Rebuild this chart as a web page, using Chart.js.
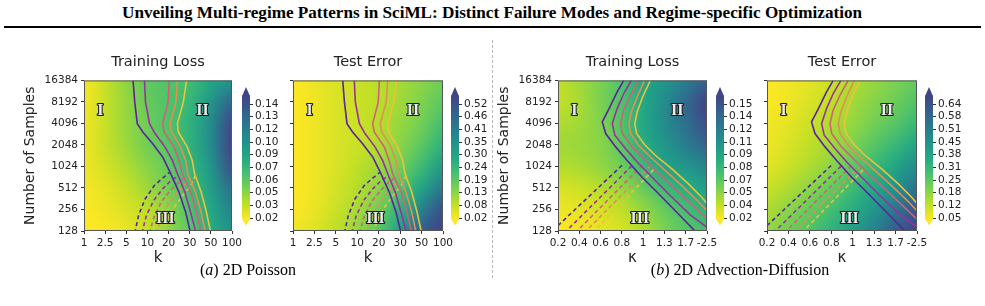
<!DOCTYPE html>
<html>
<head>
<meta charset="utf-8">
<script src="https://cdn.jsdelivr.net/npm/chart.js@4.4.1/dist/chart.umd.min.js"></script>
<style>
  body { margin: 0; width: 985px; height: 306px; background: #fff; position: relative; overflow: hidden; }
  canvas { position: absolute; }
  #header { position: absolute; top: 3px; left: 0; width: 985px; text-align: center; font: bold 17px "Liberation Serif", serif; color: #000; white-space: nowrap; }
  #header span { display: inline-block; transform-origin: center; }
  #rule { position: absolute; top: 26px; left: 4px; width: 977px; height: 2px; background: #000; }
  #divider { position: absolute; left: 492px; top: 40px; height: 238px; border-left: 1px dashed #b5b5b5; }
  .cap { position: absolute; top: 261px; font: 16px "Liberation Serif", serif; color: #000; white-space: nowrap; transform: translateX(-50%); }
</style>
</head>
<body>
<div id="header"><span id="headText">Unveiling Multi-regime Patterns in SciML: Distinct Failure Modes and Regime-specific Optimization</span></div>
<div id="rule"></div>
<div id="divider"></div>

<canvas id="hm1" width="246" height="230" style="left:0px;top:44px"></canvas>
<canvas id="cb1" width="48" height="152" style="left:242px;top:80px"></canvas>
<canvas id="hm2" width="174" height="230" style="left:283px;top:44px"></canvas>
<canvas id="cb2" width="48" height="152" style="left:451px;top:80px"></canvas>
<canvas id="hm3" width="249" height="230" style="left:474px;top:44px"></canvas>
<canvas id="cb3" width="48" height="152" style="left:716px;top:80px"></canvas>
<canvas id="hm4" width="176" height="230" style="left:757px;top:44px"></canvas>
<canvas id="cb4" width="48" height="152" style="left:925px;top:80px"></canvas>

<div class="cap" style="left:248px">(<i>a</i>) 2D Poisson</div>
<div class="cap" style="left:740px">(<i>b</i>) 2D Advection-Diffusion</div>

<script>
// ---- axis categories ----
const poissonK = ['1', '2.5', '5', '10', '20', '30', '50', '100'];
const advDiffKappa = ['0.2', '0.4', '0.6', '0.8', '1', '1.3', '1.7', '-2.5'];
const sampleCounts = ['128', '256', '512', '1024', '2048', '4096', '8192', '16384'];

// ---- heatmap values, one row per sample count (128 first, 16384 last) ----
const poissonTrainLoss = [
  [0.020, 0.020, 0.025, 0.033, 0.045, 0.060, 0.080, 0.098],
  [0.020, 0.024, 0.029, 0.036, 0.048, 0.064, 0.083, 0.108],
  [0.022, 0.026, 0.033, 0.043, 0.054, 0.068, 0.089, 0.120],
  [0.024, 0.030, 0.039, 0.048, 0.058, 0.073, 0.095, 0.139],
  [0.024, 0.033, 0.043, 0.054, 0.061, 0.076, 0.101, 0.145],
  [0.024, 0.033, 0.045, 0.055, 0.064, 0.076, 0.101, 0.143],
  [0.022, 0.033, 0.045, 0.057, 0.063, 0.073, 0.095, 0.126],
  [0.022, 0.033, 0.047, 0.059, 0.063, 0.068, 0.083, 0.095]
];
const poissonTestError = [
  [0.031, 0.052, 0.084, 0.126, 0.195, 0.312, 0.486, 0.550],
  [0.020, 0.041, 0.073, 0.110, 0.168, 0.259, 0.391, 0.524],
  [0.020, 0.036, 0.062, 0.094, 0.137, 0.206, 0.296, 0.418],
  [0.020, 0.036, 0.057, 0.084, 0.115, 0.163, 0.232, 0.327],
  [0.020, 0.036, 0.057, 0.073, 0.100, 0.137, 0.190, 0.259],
  [0.020, 0.036, 0.057, 0.073, 0.094, 0.126, 0.163, 0.221],
  [0.020, 0.036, 0.057, 0.073, 0.089, 0.115, 0.147, 0.190],
  [0.020, 0.036, 0.057, 0.073, 0.089, 0.110, 0.137, 0.168]
];
const advDiffTrainLoss = [
  [0.020, 0.023, 0.026, 0.030, 0.041, 0.055, 0.065, 0.073],
  [0.024, 0.027, 0.031, 0.037, 0.048, 0.062, 0.073, 0.083],
  [0.030, 0.033, 0.039, 0.048, 0.062, 0.076, 0.087, 0.097],
  [0.040, 0.043, 0.049, 0.059, 0.076, 0.093, 0.104, 0.115],
  [0.045, 0.047, 0.051, 0.065, 0.087, 0.104, 0.121, 0.139],
  [0.041, 0.045, 0.053, 0.069, 0.090, 0.111, 0.132, 0.153],
  [0.036, 0.043, 0.055, 0.069, 0.090, 0.111, 0.135, 0.160],
  [0.036, 0.045, 0.055, 0.069, 0.090, 0.104, 0.121, 0.139]
];
const advDiffTestError = [
  [0.176, 0.226, 0.271, 0.334, 0.397, 0.491, 0.604, 0.680],
  [0.145, 0.189, 0.239, 0.289, 0.352, 0.428, 0.523, 0.630],
  [0.113, 0.145, 0.189, 0.239, 0.302, 0.365, 0.441, 0.541],
  [0.082, 0.113, 0.145, 0.189, 0.252, 0.315, 0.378, 0.460],
  [0.069, 0.094, 0.126, 0.163, 0.208, 0.258, 0.315, 0.378],
  [0.063, 0.082, 0.113, 0.145, 0.176, 0.220, 0.258, 0.315],
  [0.050, 0.069, 0.094, 0.126, 0.163, 0.195, 0.226, 0.271],
  [0.050, 0.063, 0.082, 0.113, 0.145, 0.176, 0.208, 0.239]
];

// ---- colour limits and colorbar tick labels (bottom to top) ----
const poissonTrainRange = [0.02, 0.145];
const poissonTestRange = [0.02, 0.55];
const advDiffTrainRange = [0.02, 0.16];
const advDiffTestRange = [0.05, 0.68];
const poissonTrainTicks = ['0.02', '0.03', '0.05', '0.06', '0.07', '0.09', '0.10', '0.12', '0.13', '0.14'];
const poissonTestTicks = ['0.02', '0.08', '0.13', '0.19', '0.24', '0.30', '0.35', '0.41', '0.46', '0.52'];
const advDiffTrainTicks = ['0.02', '0.04', '0.05', '0.07', '0.08', '0.09', '0.11', '0.12', '0.14', '0.15'];
const advDiffTestTicks = ['0.05', '0.12', '0.18', '0.25', '0.31', '0.38', '0.45', '0.51', '0.58', '0.64'];

// ---- regime boundaries, [k index, samples index] ----
const poissonSolid = [
  [[2.32, 7.0], [2.40, 6.0], [2.52, 4.99], [2.78, 4.6], [3.25, 4.06], [3.72, 3.44], [4.07, 2.74], [4.49, 1.81], [4.81, 0.87], [5.04, -0.09]],
  [[2.86, 7.0], [2.91, 6.0], [3.10, 4.99], [3.36, 4.53], [3.83, 3.91], [4.18, 3.28], [4.42, 2.66], [4.77, 1.81], [5.04, 0.87], [5.30, -0.09]],
  [[4.03, 7.0], [3.98, 6.0], [3.72, 4.99], [3.79, 4.6], [4.26, 3.91], [4.49, 3.28], [4.65, 2.66], [5.04, 1.81], [5.32, 0.87], [5.54, -0.09]],
  [[4.42, 7.0], [4.35, 6.0], [4.07, 4.99], [4.14, 4.6], [4.57, 3.91], [4.81, 3.28], [4.91, 2.66], [5.27, 1.81], [5.54, 0.87], [5.75, -0.09]],
  [[4.85, 7.0], [4.70, 6.0], [4.42, 4.99], [4.46, 4.6], [4.88, 3.91], [5.12, 3.28], [5.23, 2.66], [5.54, 1.81], [5.79, 0.87], [6.00, -0.09]]
];
const poissonDashed = [
  [[2.40, -0.09], [2.58, 0.72], [2.89, 1.49], [3.33, 2.12], [3.72, 2.46], [4.07, 2.74]],
  [[2.74, -0.09], [2.95, 0.72], [3.30, 1.42], [3.72, 1.96], [4.07, 2.30], [4.42, 2.55]],
  [[3.09, -0.09], [3.33, 0.69], [3.67, 1.37], [4.11, 1.91], [4.45, 2.24], [4.76, 2.49]],
  [[3.41, -0.09], [3.67, 0.64], [4.03, 1.31], [4.45, 1.84], [4.77, 2.18], [5.04, 2.43]],
  [[3.72, -0.09], [3.98, 0.59], [4.34, 1.21], [4.76, 1.76], [5.04, 2.09], [5.27, 2.58]]
];
const advDiffSolid = [
  [[3.09, 7.0], [2.78, 6.47], [2.40, 5.69], [2.08, 5.07], [2.24, 4.53], [2.71, 3.91], [3.25, 3.28], [3.95, 2.50], [4.73, 1.73], [5.58, 0.87], [6.52, -0.09]],
  [[3.45, 7.0], [3.09, 6.39], [2.78, 5.69], [2.55, 4.99], [2.67, 4.45], [3.17, 3.83], [3.72, 3.21], [4.49, 2.43], [5.27, 1.65], [6.21, 0.75], [7.06, 0.13]],
  [[3.79, 7.0], [3.41, 6.32], [3.09, 5.62], [2.94, 4.99], [3.02, 4.53], [3.48, 3.91], [4.03, 3.36], [4.81, 2.58], [5.66, 1.81], [6.52, 1.00], [7.06, 0.48]],
  [[4.07, 7.0], [3.72, 6.24], [3.45, 5.54], [3.33, 4.99], [3.41, 4.53], [3.79, 3.98], [4.34, 3.44], [5.12, 2.74], [5.89, 2.04], [6.59, 1.37], [7.06, 0.87]],
  [[4.34, 7.0], [3.98, 6.24], [3.72, 5.54], [3.61, 4.99], [3.69, 4.53], [4.07, 4.01], [4.57, 3.52], [5.35, 2.89], [6.13, 2.19], [6.75, 1.57], [7.06, 1.21]]
];
const advDiffDashed = [
  [[0.00, 0.25], [3.09, 3.13]],
  [[0.30, -0.09], [3.52, 3.08]],
  [[0.81, -0.09], [3.92, 3.02]],
  [[1.23, -0.09], [4.29, 2.97]],
  [[1.62, -0.09], [4.57, 2.93]]
];
const regimeNames = ['I', 'II', 'III'];
const regimeSpots = [[0.77, 5.6], [5.6, 5.6], [3.85, 0.55]];

// ---- styling ----
const lineColors = ['#5b22a0', '#9b2fa0', '#d0607c', '#e68c55', '#eec23a'];
const viridisR = [[253, 231, 37], [189, 223, 38], [122, 209, 81], [68, 191, 112], [34, 168, 132],
                  [33, 145, 140], [42, 120, 142], [53, 95, 141], [65, 68, 135]];
const tickFont = { family: 'DejaVu Sans', size: 10.5 };
const textColor = '#222';

function cmap(t) {
  t = Math.min(1, Math.max(0, t));
  const f = t * (viridisR.length - 1);
  const i = Math.min(viridisR.length - 2, Math.floor(f));
  const u = f - i;
  return viridisR[i].map((c, k) => Math.round(c + (viridisR[i + 1][k] - c) * u));
}

// draws the value grid under the lines, then frame + regime names on top
const heatmapPlugin = {
  id: 'heatmap',
  beforeDatasetsDraw(chart, args, opts) {
    const grid = opts.grid, rows = grid.length, cols = grid[0].length;
    const [vmin, vmax] = opts.range;
    const off = document.createElement('canvas');
    off.width = cols; off.height = rows;
    const octx = off.getContext('2d');
    const img = octx.createImageData(cols, rows);
    for (let r = 0; r < rows; r++) {
      for (let c = 0; c < cols; c++) {
        const rgb = cmap((grid[r][c] - vmin) / (vmax - vmin));
        img.data.set([rgb[0], rgb[1], rgb[2], 255], ((rows - 1 - r) * cols + c) * 4);
      }
    }
    octx.putImageData(img, 0, 0);
    const { ctx, chartArea: a, scales: { x, y } } = chart;
    const x0 = x.getPixelForValue(-0.5), x1 = x.getPixelForValue(cols - 0.5);
    const y0 = y.getPixelForValue(rows - 0.5), y1 = y.getPixelForValue(-0.5);
    ctx.save();
    ctx.beginPath();
    ctx.rect(a.left, a.top, a.width, a.height);
    ctx.clip();
    ctx.imageSmoothingEnabled = true;
    ctx.imageSmoothingQuality = 'high';
    ctx.drawImage(off, x0, y0, x1 - x0, y1 - y0);
    ctx.restore();
  },
  afterDatasetsDraw(chart) {
    const { ctx, chartArea: a, scales: { x, y } } = chart;
    ctx.save();
    ctx.strokeStyle = '#555';
    ctx.lineWidth = 1;
    ctx.strokeRect(a.left + 0.5, a.top + 0.5, a.width - 1, a.height - 1);
    ctx.font = 'bold 16px "Liberation Serif"';
    ctx.textAlign = 'center';
    ctx.textBaseline = 'middle';
    ctx.lineJoin = 'round';
    regimeNames.forEach((name, i) => {
      const px = x.getPixelForValue(regimeSpots[i][0]);
      const py = y.getPixelForValue(regimeSpots[i][1]);
      ctx.lineWidth = 2.2;
      ctx.strokeStyle = '#1e1e1e';
      ctx.strokeText(name, px, py);
      ctx.fillStyle = '#ececec';
      ctx.fillText(name, px, py);
    });
    ctx.restore();
  }
};

function makeHeatmap(id, opt) {
  const datasets = [];
  opt.solid.forEach((line, i) => datasets.push({
    data: line.map(p => ({ x: p[0], y: p[1] })),
    showLine: true, borderColor: lineColors[i], borderWidth: 1.6, pointRadius: 0
  }));
  opt.dashed.forEach((line, i) => datasets.push({
    data: line.map(p => ({ x: p[0], y: p[1] })),
    showLine: true, borderColor: lineColors[i], borderWidth: 1.6, borderDash: [4, 3], pointRadius: 0
  }));
  const idxTicks = s => { s.ticks = [0, 1, 2, 3, 4, 5, 6, 7].map(v => ({ value: v })); };
  new Chart(document.getElementById(id), {
    type: 'scatter',
    data: { datasets },
    plugins: [heatmapPlugin],
    options: {
      responsive: false,
      animation: false,
      events: [],
      layout: { padding: { right: opt.padRight } },
      plugins: {
        legend: { display: false },
        tooltip: { enabled: false },
        title: {
          display: true, text: opt.title, fullSize: false, color: textColor,
          font: { family: 'DejaVu Sans', size: 14.5, weight: 'normal' },
          padding: { top: 10, bottom: 9 }
        },
        heatmap: { grid: opt.grid, range: opt.range }
      },
      scales: {
        x: {
          type: 'linear', min: 0, max: 7,
          afterBuildTicks: idxTicks,
          afterFit: s => { s.height = 43; s.paddingLeft = 0; s.paddingRight = 0; },
          ticks: { callback: v => opt.xLabels[v], autoSkip: false, maxRotation: 0, padding: 3, font: tickFont, color: textColor },
          grid: { drawOnChartArea: false, tickLength: 3, color: '#333' },
          border: { display: false },
          title: { display: true, text: opt.xTitle, color: textColor, font: { family: 'DejaVu Sans', size: 15 }, padding: { top: 0, bottom: 7 } }
        },
        y: {
          type: 'linear', min: 0, max: 7,
          afterBuildTicks: idxTicks,
          afterFit: s => { s.width = opt.yLabels ? 84 : 10; s.paddingTop = 0; s.paddingBottom = 0; },
          ticks: { display: !!opt.yLabels, autoSkip: false, callback: v => opt.yLabels ? opt.yLabels[v] : '', padding: 3, font: tickFont, color: textColor },
          grid: { drawOnChartArea: false, tickLength: 3, color: '#333' },
          border: { display: false },
          title: { display: !!opt.yLabels, text: 'Number of Samples', color: textColor, font: { family: 'DejaVu Sans', size: 14 }, padding: { top: 22, bottom: 0 } }
        }
      }
    }
  });
}

// colorbar: a single floating bar with the colormap, triangles for the extended ends
const colorbarEnds = {
  id: 'colorbarEnds',
  afterDatasetsDraw(chart) {
    const { ctx, chartArea: a, scales: { y } } = chart;
    const top = y.getPixelForValue(9.65), tip = y.getPixelForValue(10.35);
    const bot = y.getPixelForValue(-0.1), btip = y.getPixelForValue(-0.6);
    ctx.save();
    ctx.fillStyle = 'rgb(' + cmap(1).join(',') + ')';
    ctx.beginPath(); ctx.moveTo(a.left, top + 0.5); ctx.lineTo(a.right, top + 0.5); ctx.lineTo((a.left + a.right) / 2, tip); ctx.closePath(); ctx.fill();
    ctx.fillStyle = 'rgb(' + cmap(0).join(',') + ')';
    ctx.beginPath(); ctx.moveTo(a.left, bot - 0.5); ctx.lineTo(a.right, bot - 0.5); ctx.lineTo((a.left + a.right) / 2, btip); ctx.closePath(); ctx.fill();
    ctx.restore();
  }
};

function makeColorbar(id, labels) {
  new Chart(document.getElementById(id), {
    type: 'bar',
    data: {
      labels: [''],
      datasets: [{
        data: [[-0.1, 9.65]],
        borderWidth: 0,
        barPercentage: 1,
        categoryPercentage: 1,
        backgroundColor: c => {
          const ch = c.chart;
          if (!ch.chartArea) return '#888';
          const ys = ch.scales.y;
          const g = ch.ctx.createLinearGradient(0, ys.getPixelForValue(-0.1), 0, ys.getPixelForValue(9.65));
          for (let i = 0; i <= 16; i++) g.addColorStop(i / 16, 'rgb(' + cmap(i / 16).join(',') + ')');
          return g;
        }
      }]
    },
    plugins: [colorbarEnds],
    options: {
      responsive: false,
      animation: false,
      events: [],
      layout: { padding: { top: 6.3, bottom: 6.4 } },
      plugins: { legend: { display: false }, tooltip: { enabled: false } },
      scales: {
        x: { display: false },
        y: {
          position: 'right', min: -0.6, max: 10.4,
          afterBuildTicks: s => { s.ticks = labels.map((_, i) => ({ value: i })); },
          afterFit: s => { s.width = 40; s.paddingTop = 0; s.paddingBottom = 0; },
          ticks: { autoSkip: false, callback: v => labels[Math.round(v)], padding: 2, font: tickFont, color: textColor },
          grid: { drawOnChartArea: false, tickLength: 3, color: '#333' },
          border: { display: false }
        }
      }
    }
  });
}

makeHeatmap('hm1', { title: 'Training Loss', grid: poissonTrainLoss, range: poissonTrainRange, solid: poissonSolid, dashed: poissonDashed, xLabels: poissonK, xTitle: 'k', yLabels: sampleCounts, padRight: 14 });
makeHeatmap('hm2', { title: 'Test Error', grid: poissonTestError, range: poissonTestRange, solid: poissonSolid, dashed: poissonDashed, xLabels: poissonK, xTitle: 'k', padRight: 14 });
makeHeatmap('hm3', { title: 'Training Loss', grid: advDiffTrainLoss, range: advDiffTrainRange, solid: advDiffSolid, dashed: advDiffDashed, xLabels: advDiffKappa, xTitle: 'κ', yLabels: sampleCounts, padRight: 16 });
makeHeatmap('hm4', { title: 'Test Error', grid: advDiffTestError, range: advDiffTestRange, solid: advDiffSolid, dashed: advDiffDashed, xLabels: advDiffKappa, xTitle: 'κ', padRight: 16 });
makeColorbar('cb1', poissonTrainTicks);
makeColorbar('cb2', poissonTestTicks);
makeColorbar('cb3', advDiffTrainTicks);
makeColorbar('cb4', advDiffTestTicks);

// squeeze the heading to the width it has in the paper
const head = document.getElementById('headText');
head.style.transform = 'scaleX(' + (740 / head.offsetWidth) + ')';
</script>
</body>
</html>
